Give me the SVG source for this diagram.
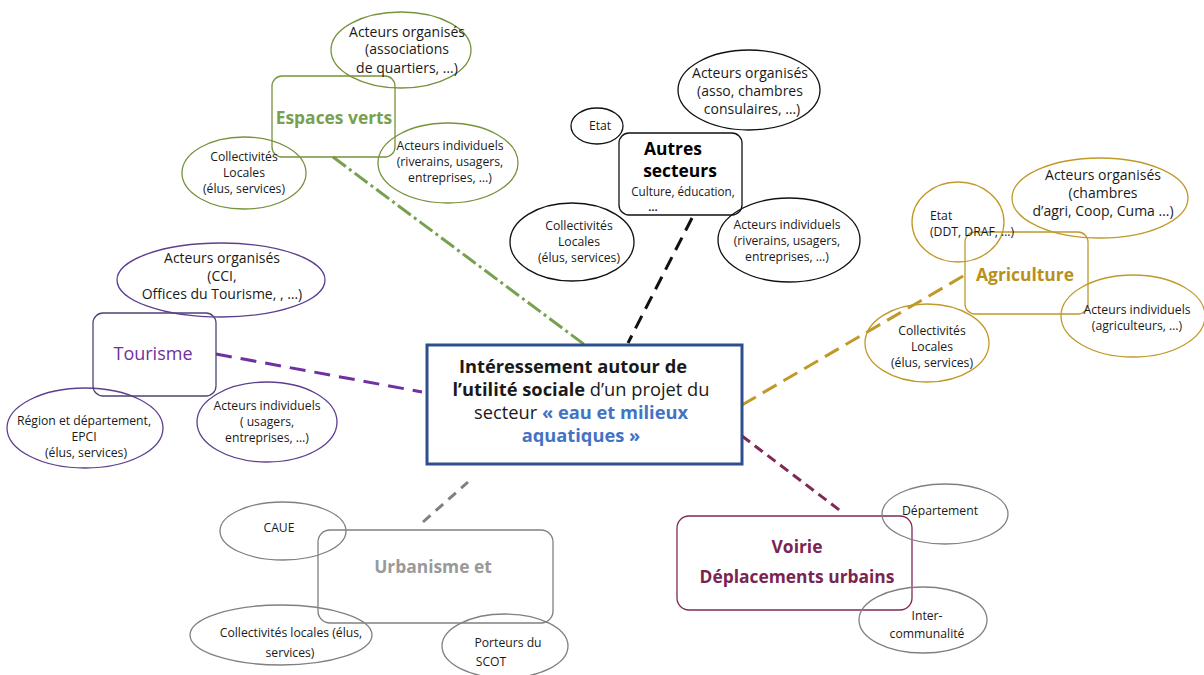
<svg xmlns="http://www.w3.org/2000/svg" width="1204" height="675" viewBox="0 0 1204 675">
<style>
text{font-family:"Open Sans","Liberation Sans",sans-serif;text-anchor:middle;fill:#1a1a1a}
.s{font-size:14px}
.xs{font-size:12.2px}
.t{font-size:17.4px;font-weight:bold}
.n{fill:none;stroke-width:1.3}
.g{stroke:#77933C}
.k{stroke:#111}
.y{stroke:#BF9A2A}
.p{stroke:#5E3F8F}
.r{stroke:#808080}
.m{stroke:#7F2A55}
.c{stroke-width:3;fill:none}
.cb{font-size:18.3px}
</style>
<rect width="1204" height="675" fill="#fff"/>
<g id="connectors">
<line x1="333" y1="157" x2="585" y2="345" stroke="#77A04F" class="c" stroke-dasharray="16 4 3 4"/>
<line x1="692" y1="218" x2="628" y2="343" stroke="#111" class="c" stroke-dasharray="14 8"/>
<line x1="742" y1="405" x2="965" y2="275" stroke="#BF9A2A" class="c" stroke-dasharray="16 8"/>
<line x1="216" y1="354" x2="422" y2="392" stroke="#7030A0" class="c" stroke-dasharray="16 9"/>
<line x1="423" y1="522" x2="468" y2="482" stroke="#808080" class="c" stroke-dasharray="10 7"/>
<line x1="742" y1="436" x2="842" y2="512" stroke="#7F2A55" class="c" stroke-dasharray="10 6"/>
</g>
<g id="center">
<rect x="427" y="345" width="315" height="119" fill="#fff" stroke="#2E4F8F" stroke-width="3"/>
<text x="573" y="373" class="cb" font-weight="bold">Intéressement autour de</text>
<text x="581" y="396" class="cb"><tspan font-weight="bold">l’utilité sociale</tspan> d’un projet du</text>
<text x="581" y="419" class="cb">secteur <tspan font-weight="bold" fill="#4472C4">« eau et milieux</tspan></text>
<text x="581" y="442" class="cb" font-weight="bold" style="fill:#4472C4">aquatiques »</text>
</g>
<g id="espaces-verts">
<rect x="272" y="76" width="123" height="81" rx="10" class="n g"/>
<text x="334" y="124" class="t" style="fill:#77A04F">Espaces verts</text>
</g>
<g id="ev-organises">
<ellipse cx="401" cy="50" rx="70" ry="38" class="n g"/>
<text x="407" y="37" class="s">Acteurs organisés</text>
<text x="407" y="54" class="s">(associations</text>
<text x="407" y="73" class="s">de quartiers, …)</text>
</g>
<g id="ev-collectivites">
<ellipse cx="244" cy="173" rx="62" ry="36" class="n g"/>
<text x="244" y="161" class="xs">Collectivités</text>
<text x="244" y="177" class="xs">Locales</text>
<text x="244" y="193" class="xs">(élus, services)</text>
</g>
<g id="ev-individuels">
<ellipse cx="448" cy="163" rx="70" ry="40" class="n g"/>
<text x="450" y="150" class="xs">Acteurs individuels</text>
<text x="450" y="166" class="xs">(riverains, usagers,</text>
<text x="450" y="182" class="xs">entreprises, …)</text>
</g>
<g id="autres-secteurs">
<rect x="619" y="133" width="123" height="82" rx="10" class="n k"/>
<text x="673" y="155" class="t" style="fill:#000">Autres</text>
<text x="680" y="177" class="t" style="fill:#000">secteurs</text>
<text x="683" y="196" style="font-size:11.7px">Culture, éducation,</text>
<text x="653" y="211" style="font-size:11px;font-weight:bold">…</text>
</g>
<g id="as-etat">
<ellipse cx="597" cy="126" rx="26" ry="18" class="n k"/>
<text x="600" y="130" class="xs">Etat</text>
</g>
<g id="as-organises">
<ellipse cx="749" cy="90" rx="71" ry="40" class="n k"/>
<text x="750" y="78" class="s">Acteurs organisés</text>
<text x="750" y="96" class="s">(asso, chambres</text>
<text x="752" y="114" class="s">consulaires, …)</text>
</g>
<g id="as-collectivites">
<ellipse cx="572" cy="242" rx="62" ry="39" class="n k"/>
<text x="579" y="230" class="xs">Collectivités</text>
<text x="579" y="246" class="xs">Locales</text>
<text x="579" y="262" class="xs">(élus, services)</text>
</g>
<g id="as-individuels">
<ellipse cx="789" cy="240" rx="71" ry="42" class="n k"/>
<text x="787" y="229" class="xs">Acteurs individuels</text>
<text x="787" y="245" class="xs">(riverains, usagers,</text>
<text x="787" y="261" class="xs">entreprises, …)</text>
</g>
<g id="agriculture">
<rect x="965" y="232" width="123" height="82" rx="10" class="n y"/>
<text x="1025" y="281" class="t" style="fill:#B8901C">Agriculture</text>
</g>
<g id="ag-etat">
<ellipse cx="958" cy="222" rx="46" ry="40" class="n y"/>
<text x="930" y="220" class="xs" style="text-anchor:start">Etat</text>
<text x="930" y="236" class="xs" style="text-anchor:start">(DDT, DRAF, …)</text>
</g>
<g id="ag-organises">
<ellipse cx="1100" cy="198" rx="88" ry="40" class="n y"/>
<text x="1103" y="180" class="s">Acteurs organisés</text>
<text x="1103" y="198" class="s">(chambres</text>
<text x="1103" y="216" class="s">d’agri, Coop, Cuma …)</text>
</g>
<g id="ag-individuels">
<ellipse cx="1133" cy="316" rx="72" ry="41" class="n y"/>
<text x="1137" y="314" class="xs">Acteurs individuels</text>
<text x="1137" y="330" class="xs">(agriculteurs, …)</text>
</g>
<g id="ag-collectivites">
<ellipse cx="927" cy="343" rx="62" ry="39" class="n y"/>
<text x="932" y="335" class="xs">Collectivités</text>
<text x="932" y="351" class="xs">Locales</text>
<text x="932" y="367" class="xs">(élus, services)</text>
</g>
<g id="tourisme">
<rect x="93" y="313" width="123" height="83" rx="10" class="n" stroke="#4B4575"/>
<text x="153" y="360" style="font-size:18px;fill:#7030A0">Tourisme</text>
</g>
<g id="to-organises">
<ellipse cx="221" cy="280" rx="104" ry="37" class="n p"/>
<text x="222" y="263" class="s">Acteurs organisés</text>
<text x="222" y="281" class="s">(CCI,</text>
<text x="222" y="299" class="s">Offices du Tourisme, , …)</text>
</g>
<g id="to-region">
<ellipse cx="85" cy="428" rx="78" ry="40" class="n p"/>
<text x="84" y="425" class="xs">Région et département,</text>
<text x="84" y="441" class="xs">EPCI</text>
<text x="86" y="457" class="xs">(élus, services)</text>
</g>
<g id="to-individuels">
<ellipse cx="267" cy="422" rx="70" ry="40" class="n p"/>
<text x="267" y="410" class="xs">Acteurs individuels</text>
<text x="267" y="426" class="xs">( usagers,</text>
<text x="267" y="442" class="xs">entreprises, …)</text>
</g>
<g id="urbanisme">
<rect x="318" y="530" width="235" height="93" rx="12" class="n r"/>
<text x="433" y="573" class="t" style="fill:#999">Urbanisme et</text>
</g>
<g id="ur-caue">
<ellipse cx="283" cy="531" rx="63" ry="29" class="n r" stroke-width="2"/>
<text x="279" y="532" class="xs">CAUE</text>
</g>
<g id="ur-collectivites">
<ellipse cx="281" cy="635" rx="91" ry="30" class="n r" stroke-width="2"/>
<text x="291" y="637" class="xs">Collectivités locales (élus,</text>
<text x="290" y="657" class="xs">services)</text>
</g>
<g id="ur-scot">
<ellipse cx="505" cy="646" rx="63" ry="32" class="n r" stroke-width="2"/>
<text x="508" y="647" class="xs">Porteurs du</text>
<text x="491" y="666" class="xs">SCOT</text>
</g>
<g id="voirie">
<rect x="677" y="516" width="235" height="94" rx="12" class="n m"/>
<text x="797" y="553" class="t" style="fill:#7A2452">Voirie</text>
<text x="797" y="583" class="t" style="fill:#7A2452">Déplacements urbains</text>
</g>
<g id="vo-departement">
<ellipse cx="945" cy="514" rx="63" ry="30" class="n r" stroke-width="2"/>
<text x="940" y="515" class="xs">Département</text>
</g>
<g id="vo-intercommunalite">
<ellipse cx="923" cy="620" rx="64" ry="33" class="n r" stroke-width="2"/>
<text x="927" y="620" class="xs">Inter-</text>
<text x="927" y="638" class="xs">communalité</text>
</g>
</svg>
